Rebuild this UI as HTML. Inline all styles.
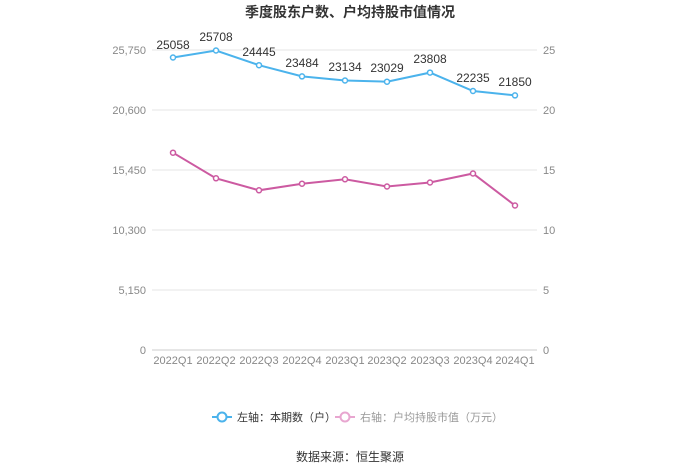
<!DOCTYPE html><html><head><meta charset="utf-8"><style>body{margin:0;background:#fff}svg{display:block;font-family:"Liberation Sans","Noto Sans CJK SC",sans-serif}</style></head><body>
<svg width="700" height="473" viewBox="0 0 700 473">
<text x="350" y="17" text-anchor="middle" font-size="14" font-weight="bold" fill="#333">季度股东户数、户均持股市值情况</text>
<g stroke="#e6e6e6" stroke-width="1">
<line x1="152" y1="50" x2="537" y2="50"/><line x1="152" y1="110" x2="537" y2="110"/><line x1="152" y1="170" x2="537" y2="170"/><line x1="152" y1="230" x2="537" y2="230"/><line x1="152" y1="290" x2="537" y2="290"/></g>
<line x1="152" y1="350" x2="537" y2="350" stroke="#ccc"/>
<g font-size="11" fill="#888" text-anchor="end"><text x="146" y="54">25,750</text><text x="146" y="114">20,600</text><text x="146" y="174">15,450</text><text x="146" y="234">10,300</text><text x="146" y="294">5,150</text><text x="146" y="354">0</text></g>
<g font-size="11" fill="#888"><text x="543" y="54">25</text><text x="543" y="114">20</text><text x="543" y="174">15</text><text x="543" y="234">10</text><text x="543" y="294">5</text><text x="543" y="354">0</text></g>
<g font-size="11" fill="#888" text-anchor="middle"><text x="173" y="364">2022Q1</text><text x="216" y="364">2022Q2</text><text x="259" y="364">2022Q3</text><text x="302" y="364">2022Q4</text><text x="345" y="364">2023Q1</text><text x="387" y="364">2023Q2</text><text x="430" y="364">2023Q3</text><text x="473" y="364">2023Q4</text><text x="515" y="364">2024Q1</text></g>
<polyline fill="none" stroke="#4bb3ec" stroke-width="2" points="173,57.5 216,50.5 259,65.2 302,76.4 345,80.5 387,81.7 430,72.6 473,91 515,95.4"/>
<g fill="#fff" stroke="#4bb3ec" stroke-width="1.5"><circle cx="173" cy="57.5" r="2.5"/><circle cx="216" cy="50.5" r="2.5"/><circle cx="259" cy="65.2" r="2.5"/><circle cx="302" cy="76.4" r="2.5"/><circle cx="345" cy="80.5" r="2.5"/><circle cx="387" cy="81.7" r="2.5"/><circle cx="430" cy="72.6" r="2.5"/><circle cx="473" cy="91" r="2.5"/><circle cx="515" cy="95.4" r="2.5"/></g>
<g font-size="12" fill="#333" text-anchor="middle"><text x="173" y="49">25058</text><text x="216" y="41">25708</text><text x="259" y="56">24445</text><text x="302" y="67">23484</text><text x="345" y="71">23134</text><text x="387" y="72">23029</text><text x="430" y="63">23808</text><text x="473" y="82">22235</text><text x="515" y="86">21850</text></g>
<polyline fill="none" stroke="#cc5aa1" stroke-width="2" points="173,152.7 216,178.3 259,190.3 302,183.7 345,179.3 387,186.5 430,182.5 473,173.5 515,205.5"/>
<g fill="#fff" stroke="#cc5aa1" stroke-width="1.5"><circle cx="173" cy="152.7" r="2.5"/><circle cx="216" cy="178.3" r="2.5"/><circle cx="259" cy="190.3" r="2.5"/><circle cx="302" cy="183.7" r="2.5"/><circle cx="345" cy="179.3" r="2.5"/><circle cx="387" cy="186.5" r="2.5"/><circle cx="430" cy="182.5" r="2.5"/><circle cx="473" cy="173.5" r="2.5"/><circle cx="515" cy="205.5" r="2.5"/></g>
<line x1="212" y1="417" x2="232" y2="417" stroke="#4bb3ec" stroke-width="2"/><circle cx="222" cy="417" r="4.5" fill="#fff" stroke="#4bb3ec" stroke-width="2"/>
<text x="237" y="421" font-size="11" fill="#333">左轴：本期数（户）</text>
<line x1="335" y1="417" x2="355" y2="417" stroke="#e8a6d0" stroke-width="2"/><circle cx="345" cy="417" r="4.5" fill="#fff" stroke="#e8a6d0" stroke-width="2"/>
<text x="360" y="421" font-size="11" fill="#999">右轴：户均持股市值（万元）</text>
<text x="350" y="461" text-anchor="middle" font-size="12" fill="#333">数据来源：恒生聚源</text>
</svg></body></html>
